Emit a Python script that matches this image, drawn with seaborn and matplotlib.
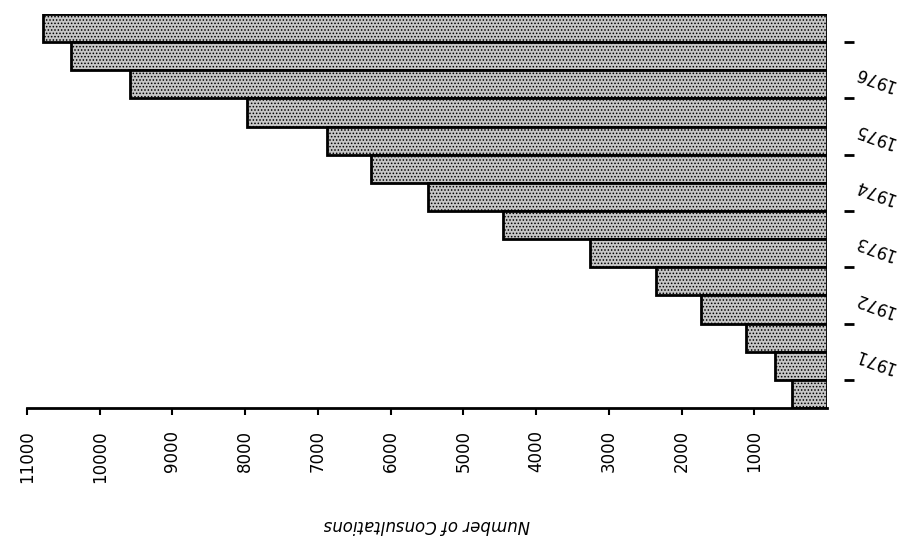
import matplotlib
matplotlib.use("Agg")
import matplotlib.pyplot as plt
import seaborn as sns

sns.set_theme(style="white")
plt.rcParams["font.family"] = ["DejaVu Sans"]
plt.rcParams["hatch.linewidth"] = 0.7
plt.rcParams["text.color"] = "black"
plt.rcParams["axes.labelcolor"] = "black"

# half-year periods, top bar first
periods = ["1977 I", "1976 II", "1976 I", "1975 II", "1975 I", "1974 II", "1974 I",
           "1973 II", "1973 I", "1972 II", "1972 I", "1971 II", "1971 I", "1970 II"]
consultations = [10780, 10400, 9590, 7970, 6870, 6270, 5490,
                 4460, 3260, 2350, 1730, 1120, 710, 480]
years = ["1976", "1975", "1974", "1973", "1972", "1971"]
x_ticks = [1000, 2000, 3000, 4000, 5000, 6000, 7000, 8000, 9000, 10000, 11000]

fig = plt.figure(figsize=(9.08, 5.5), dpi=100)
ax = fig.add_axes([27 / 908, 142 / 550, 800 / 908, 394 / 550])

sns.barplot(x=consultations, y=periods, orient="h", color="#c6c6c6",
            edgecolor="black", linewidth=2, width=1.0, saturation=1, ax=ax)
for p in ax.patches:
    p.set_hatch(".....")

ax.set_xlim(11000, 0)
ax.set_ylim(len(periods) - 0.5, -0.5)

# x axis: bottom line with short ticks, labels turned sideways
ax.set_xticks(x_ticks)
ax.set_xticklabels([str(v) for v in x_ticks], rotation=90, fontsize=12)
ax.tick_params(axis="x", direction="out", length=5, width=1.5, pad=11,
               bottom=True, colors="black")
ax.set_xlabel("Number of Consultations", rotation=180, fontsize=12,
              fontstyle="italic", labelpad=24, color="black")

# y axis: year boundaries on the right, labels upside down
for s in ["top", "left"]:
    ax.spines[s].set_visible(False)
ax.spines["bottom"].set_linewidth(2)
ax.spines["bottom"].set_color("black")
ax.spines["right"].set_position(("outward", 12))
ax.spines["right"].set_color("none")
ax.yaxis.tick_right()
ax.set_yticks([0.5, 2.5, 4.5, 6.5, 8.5, 10.5, 12.5])
ax.set_yticks([1.5, 3.5, 5.5, 7.5, 9.5, 11.5], minor=True)
ax.set_yticklabels([], minor=False)
ax.set_yticklabels(years, minor=True, rotation=160, fontsize=12, color="black")
ax.tick_params(axis="y", which="major", direction="out", length=7, width=2,
               right=True, left=False, colors="black")
ax.tick_params(axis="y", which="minor", length=0, pad=6, right=True, left=False,
               labelcolor="black")
ax.set_ylabel("")

fig.savefig("out.png", dpi=100)
